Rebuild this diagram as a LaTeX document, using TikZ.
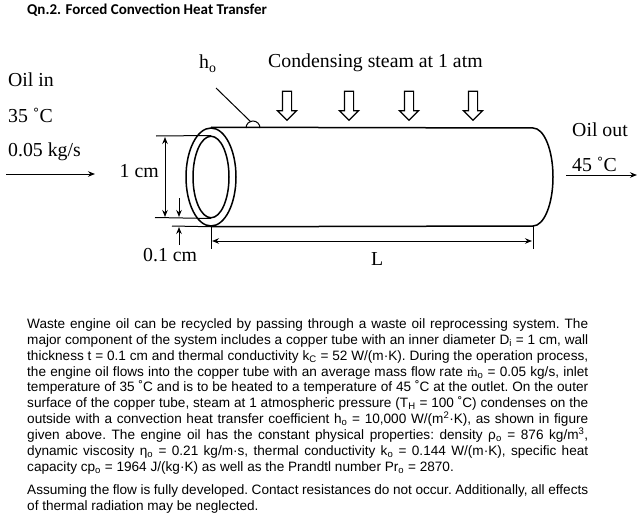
\documentclass[tikz,border=0pt]{standalone}
\usepackage{fontspec}
\setmainfont{Liberation Serif}
\newfontfamily\bodyfont{Liberation Sans}
\newfontfamily\titlefont{Carlito}
\usetikzlibrary{shapes.geometric, shapes.arrows, arrows.meta, positioning}

\begin{document}
\begin{tikzpicture}[
        x=1pt, y=-1pt,
        tube/.style={ellipse, draw, line width=1.5pt, inner sep=0pt},
        wall/.style={line width=1.5pt},
        thin line/.style={line width=1pt},
        arrow/.style={line width=1pt,-{Stealth[length=7pt,width=5.5pt]}},
        dimension/.style={line width=1pt,{Stealth[length=7pt,width=5.5pt]}-{Stealth[length=7pt,width=5.5pt]}},
        steam/.style={single arrow, draw, line width=1.2pt, shape border rotate=270, minimum height=29pt, minimum width=18pt, single arrow head extend=5pt, inner sep=4pt},
        tag/.style={anchor=base west, inner sep=0pt, font=\fontsize{19.8}{22}\selectfont},
        para/.style={anchor=north west, inner sep=0pt, text width=561pt, align=justify, font=\bodyfont\fontsize{13.6}{15.85}\selectfont\frenchspacing}
    ]
        \useasboundingbox (0,0) rectangle (642,516);

        \node[anchor=base west, inner sep=0pt, font=\titlefont\bfseries\fontsize{15}{17}\selectfont] (title) at (27,15) {Qn.2. Forced Convection Heat Transfer};

        \node[tag] (oilin) at (8,87) {Oil in};
        \node[tag] (tempin) at (8,122) {35 ˚C};
        \node[tag] (flowin) at (8,156) {0.05 kg/s};
        \node[tag] (coeff) at (199,69) {h\textsubscript{o}};
        \node[tag] (steamlabel) at (268,68) {Condensing steam at 1 atm};
        \node[tag] (oilout) at (572,136) {Oil out};
        \node[tag] (tempout) at (572,171) {45 ˚C};
        \node[tag] (inner size) at (119.5,177) {1 cm};
        \node[tag] (wall size) at (143,261) {0.1 cm};
        \node[tag] (length) at (371,265) {L};

        \foreach \name/\xpos in {a/287, b/349, c/409, d/473}
            \node[steam] (steam\name) at (\xpos,103.5) {};

        \node[tube, minimum width=50pt, minimum height=98pt] (outer) at (211,177) {};
        \node[tube, minimum width=36pt, minimum height=81.5pt] (inner) at (211,177) {};

        \coordinate (topend) at (533,128);
        \coordinate (bottomend) at (533,226);
        \draw[wall] (outer.north) -- (topend) arc[start angle=90, end angle=-90, x radius=20, y radius=-49] -- (outer.south);

        \coordinate (leader) at (216,88);
        \draw[thin line] (246,128) arc[start angle=180, end angle=0, x radius=7, y radius=-7];
        \draw[thin line] (leader) -- (251,122);

        \coordinate (inend) at (6,174);
        \coordinate (inhead) at (95,174);
        \coordinate (outend) at (566,175);
        \coordinate (outhead) at (637,175);
        \draw[arrow] (inend) -- (inhead);
        \draw[arrow] (outend) -- (outhead);

        \coordinate (sizetop) at (156,136);
        \coordinate (sizebottom) at (155,217.5);
        \coordinate (walltick) at (172,226);
        \draw[thin line] (sizetop) -- (inner.north);
        \draw[thin line] (sizebottom) -- (inner.south);
        \draw[thin line] (walltick) -- (outer.south);
        \draw[dimension] (165,137) -- (165,217);

        \coordinate (downstart) at (179,198);
        \coordinate (downend) at (179,217);
        \coordinate (upstart) at (179,245);
        \coordinate (upend) at (179,227);
        \draw[arrow] (downstart) -- (downend);
        \draw[arrow] (upstart) -- (upend);

        \coordinate (lefttick) at (211,249);
        \coordinate (righttick) at (533,249);
        \draw[thin line] (outer.south) -- (lefttick);
        \draw[thin line] (bottomend) -- (righttick);
        \draw[dimension] (212,241) -- (532,241);

        \node[para] (problem) at (27,318.5) {Waste engine oil can be recycled by passing through a waste oil reprocessing system. The\linebreak
            major component of the system includes a copper tube with an inner diameter D\textsubscript{i} = 1 cm, wall\linebreak
            thickness t = 0.1 cm and thermal conductivity k\textsubscript{C} = 52 W/(m·K). During the operation process,\linebreak
            the engine oil flows into the copper tube with an average mass flow rate {\rmfamily ṁ}\textsubscript{o} = 0.05 kg/s, inlet\linebreak
            temperature of 35 ˚C and is to be heated to a temperature of 45 ˚C at the outlet. On the outer\linebreak
            surface of the copper tube, steam at 1 atmospheric pressure (T\textsubscript{H} = 100 ˚C) condenses on the\linebreak
            outside with a convection heat transfer coefficient h\textsubscript{o} = 10,000 W/(m\textsuperscript{2}·K), as shown in figure\linebreak
            given above. The engine oil has the constant physical properties: density ρ\textsubscript{o} = 876 kg/m\textsuperscript{3},\linebreak
            dynamic viscosity η\textsubscript{o} = 0.21 kg/m·s, thermal conductivity k\textsubscript{o} = 0.144 W/(m·K), specific heat\linebreak
            capacity cp\textsubscript{o} = 1964 J/(kg·K) as well as the Prandtl number Pr\textsubscript{o} = 2870.};
        \node[para, below=10pt of problem] (assumption) {Assuming the flow is fully developed. Contact resistances do not occur. Additionally, all effects\linebreak
            of thermal radiation may be neglected.};
    \end{tikzpicture}
\end{document}
